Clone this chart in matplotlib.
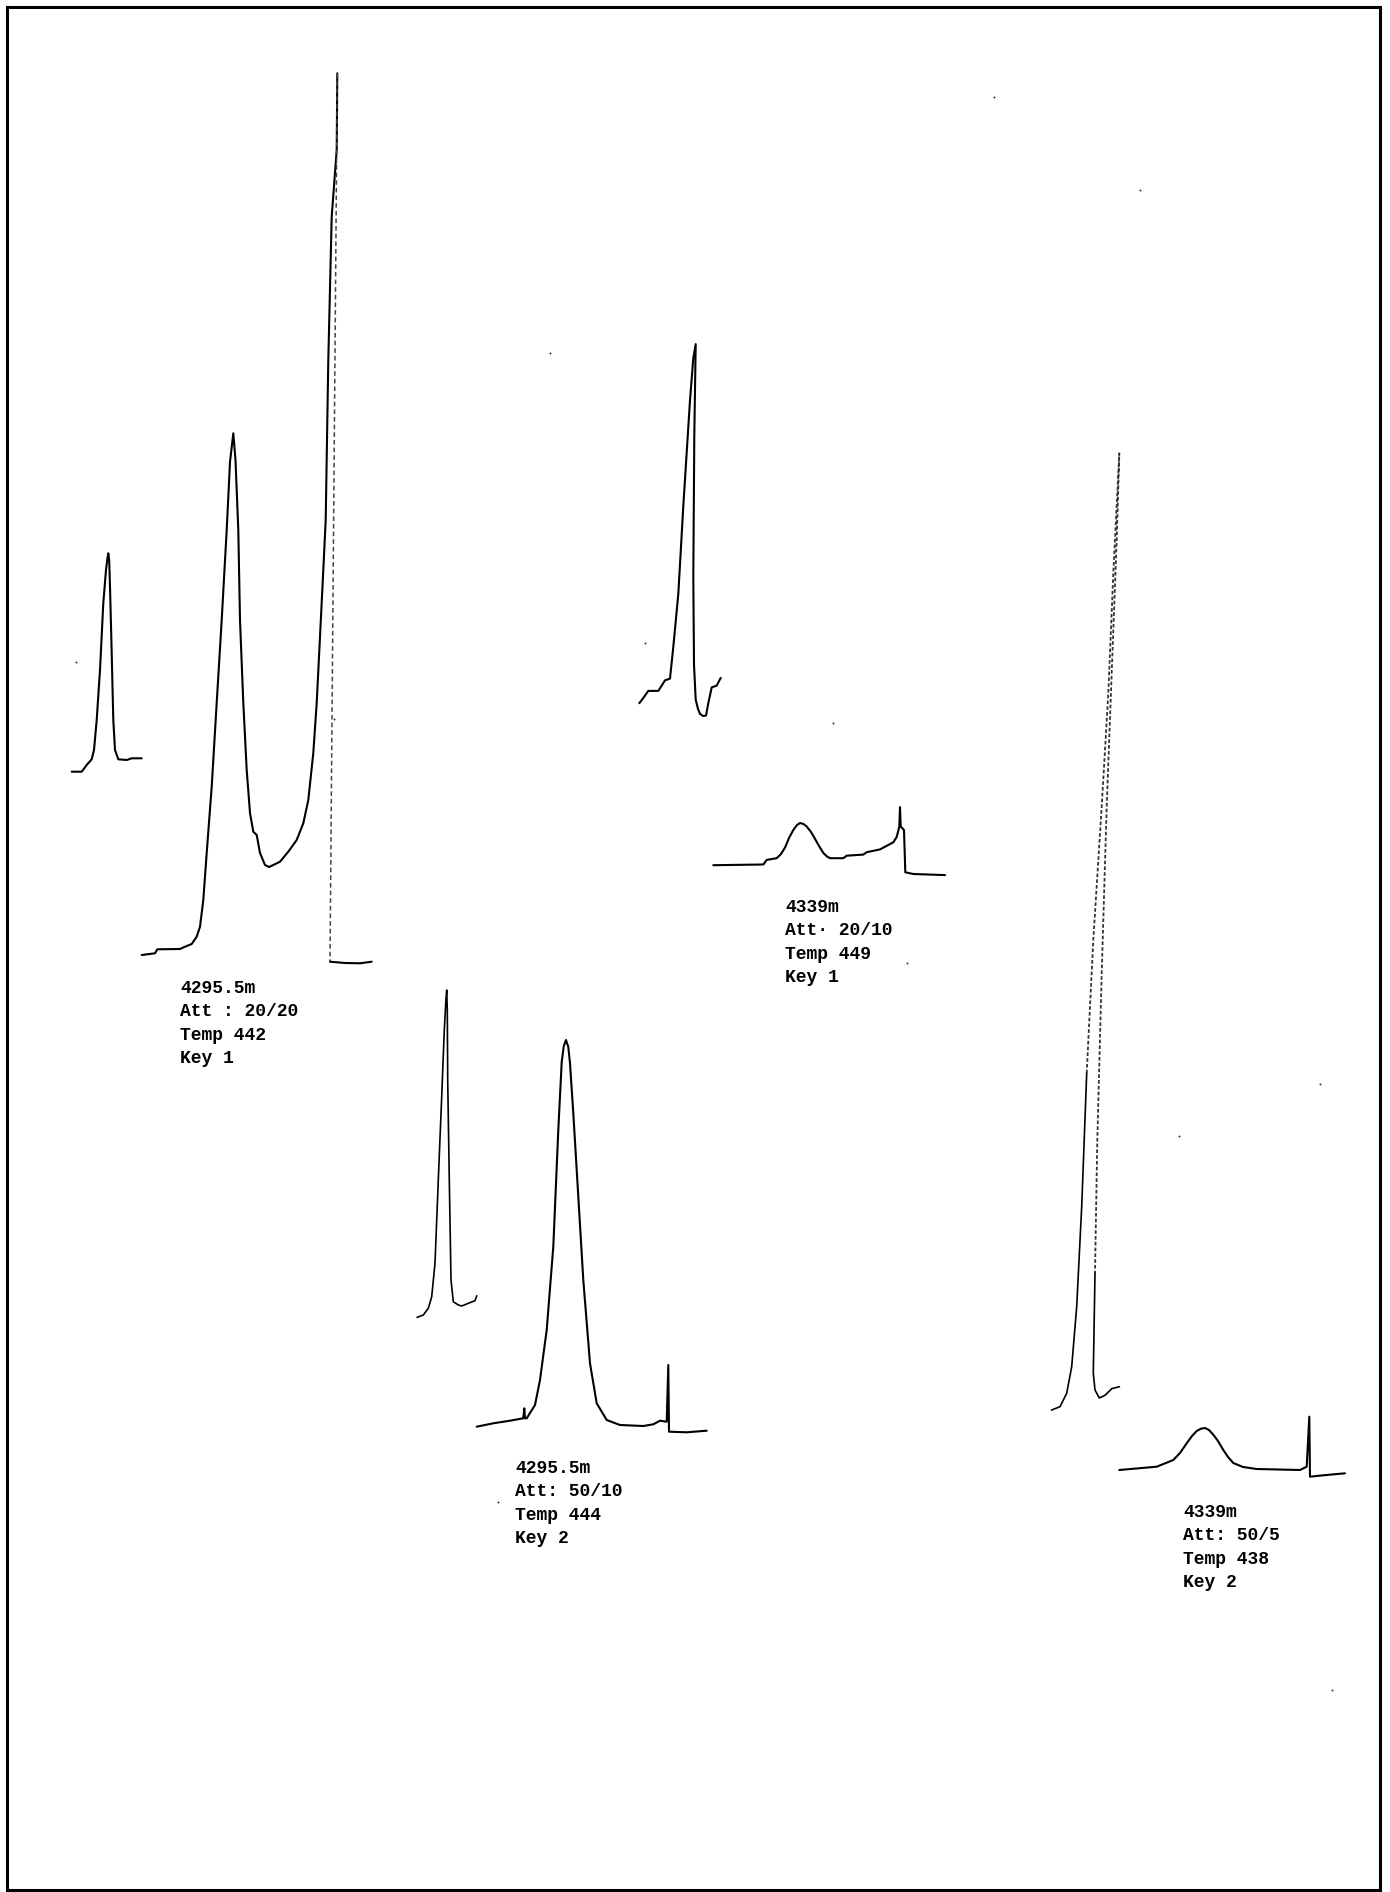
import matplotlib
matplotlib.use('Agg')
import matplotlib.pyplot as plt

# ==========================================
# DATA (page coordinates in pixels, y measured downwards)
# ==========================================
PAGE_W, PAGE_H = 1390, 1892

# 4295.5m, key 1 - small early peak
t1_x = [71.7, 81.7, 86.7, 91.7, 94, 96.7, 100, 103.3, 106, 107.5, 108.3, 109.2, 110, 111.7, 113.3, 115, 118.3, 126.7, 131.7, 141.7]
t1_y = [771.7, 771.7, 765, 759.3, 750, 720, 670, 603, 570, 558, 553.3, 560, 586.7, 653, 720, 750, 759.3, 760, 758.3, 758.3]

# 4295.5m, key 1 - main peak, trough and off-scale spike
t2_x = [141.7, 155, 157.3, 180, 185, 191.7, 196.7, 200, 203.3, 206.7, 211.7, 216.7, 221.7, 226.7, 230, 233.3, 235.5,
        238.3, 240, 243.3, 246.7, 250, 253.3, 256.7, 260, 265, 269, 273.3, 280, 288.3, 296.7, 303.3, 308.3,
        313.3, 316.7, 320, 323.3, 325.7, 328.3, 331.7, 336.7, 337.3,
        330, 330, 345, 360, 371.7]
t2_y = [955, 953.3, 949.3, 949, 946.7, 944, 936.7, 926.7, 900, 853, 786.7, 703, 620, 530, 462, 433.3, 460,
        530, 620, 703, 770, 813, 831.7, 835, 853, 865, 867, 865, 861.7, 851.7, 840, 823.3, 800,
        753, 703, 636.7, 570, 520, 360, 216.7, 150, 73.3,
        961.7, 961.7, 963, 963.3, 961.7]
t2_drop = (41, 43)   # index range of the faint pen-return line

# 4339m, key 1 - sharp peak
t3_x = [639.3, 643.3, 648.3, 658.3, 665, 670, 673.3, 678.3, 683.3, 690, 693.3, 695.7, 694.3, 693.3, 694,
        695.7, 698, 700, 703, 706, 708.3, 711.7, 716.7, 720.7]
t3_y = [703.2, 698, 690.9, 690.9, 680.4, 678.6, 646.9, 594.1, 506.1, 400.4, 358.2, 344.1, 435.6, 576.5, 664.5,
        699.7, 709, 713.8, 716, 715.6, 703.2, 687.4, 685.6, 677.9]

# 4339m, key 1 - small broad peak
t4_x = [713.3, 763.3, 766.7, 776.7, 781, 785, 789, 793.3, 797, 800, 803.5, 806.7, 811, 815, 819, 823.3, 827, 830,
        843.3, 846.7, 863.3, 866.7, 880, 893.3, 896.7, 899.3, 900, 900.7, 904, 905.3, 913.3, 945]
t4_y = [865.2, 864.5, 859.9, 858.2, 854, 847.6, 838, 830, 825, 823, 824, 826.5, 832, 838.8, 846, 852.9, 856.5, 858.2,
        858.2, 855.7, 854.6, 852.2, 849.4, 842.3, 837, 826.5, 807.1, 826.5, 830, 872.3, 874, 875.1]

# 4295.5m, key 2 - sharp peak
t5_x = [417.3, 423.3, 428.3, 431.7, 435, 438.3, 441.7, 444.3, 445.8, 446.7, 447.3, 447.7, 449.3, 451, 453.3, 458.3,
        461.7, 468.3, 475, 476.7]
t5_y = [1317.3, 1315, 1308.3, 1296.7, 1263.3, 1180, 1096.7, 1030, 1002, 990, 1010, 1080, 1180, 1280, 1301.7, 1305,
        1306, 1303.3, 1300.7, 1296]

# 4295.5m, key 2 - broad peak
t6_x = [476.7, 493.3, 510, 523.3, 524.3, 525, 526.7, 535, 540, 546.7, 553.3, 558.3, 561.7, 563.8, 566, 568.3, 570,
        573.3, 578.3, 583.3, 590, 596.7, 606.7, 620, 643.3, 653.3, 660, 666.7, 668.3, 669, 686.7, 706.7]
t6_y = [1426.7, 1423.3, 1420.7, 1418.3, 1408.3, 1418.3, 1418.3, 1405, 1380, 1330, 1246.7, 1130, 1062, 1046, 1040, 1047, 1063.3,
        1113.3, 1196.7, 1280, 1363.3, 1403.3, 1420, 1425, 1426, 1424.3, 1420.7, 1421.7, 1365, 1431.7, 1432.3, 1430.7]

# 4339m, key 2 - tall sharp peak
t7_x = [1051.7, 1060, 1066.7, 1071.7, 1076.7, 1081.7, 1086.7, 1093.3, 1101.7, 1108.3, 1113.3, 1117.3, 1119.3,
        1116.7, 1111.7, 1106.7, 1101.7, 1097.3, 1095, 1093.3, 1095, 1099.3, 1105, 1111.7, 1119.3]
t7_y = [1410, 1406.7, 1393.3, 1366.7, 1306.7, 1206.7, 1073.3, 940, 806.7, 693.3, 573.3, 493.3, 453.3,
        540, 673.3, 806.7, 973.3, 1140, 1273.3, 1373.3, 1390, 1398, 1395.3, 1388.7, 1386.7]
t7_faint = (6, 18)

# 4339m, key 2 - small broad peak
t8_x = [1119.3, 1156.7, 1173.3, 1180, 1186.7, 1192, 1196.7, 1201, 1205, 1209, 1213.3, 1218, 1223.3, 1228, 1233.3,
        1243, 1256.7, 1300, 1306.7, 1309.3, 1310, 1323.3, 1345]
t8_y = [1470, 1466.7, 1460, 1453, 1443.3, 1436, 1431, 1428.7, 1428, 1430, 1434.7, 1441, 1450, 1457, 1463,
        1467, 1469, 1470, 1466.7, 1416.7, 1476.7, 1475.3, 1473.3]

# annotation blocks
label1 = ['4295.5m', 'Att : 20/20', 'Temp 442', 'Key 1']
label2 = ['4339m', 'Att· 20/10', 'Temp 449', 'Key 1']
label3 = ['4295.5m', 'Att: 50/10', 'Temp 444', 'Key 2']
label4 = ['4339m', 'Att: 50/5', 'Temp 438', 'Key 2']
label_x = [180, 785, 515, 1183]
label_y = [988, 907, 1468, 1512]

# stray specks on the scanned page
speck_x = [993.5, 1139.8, 1319.9, 1178.5, 1332, 550, 832.8, 645.4, 498, 333.6, 76, 906.5]
speck_y = [96.7, 189.8, 1084.2, 1136.2, 1689.8, 353, 722.8, 643, 1502.4, 719.2, 662.4, 963]

# page frame
frame_x = [7, 1380, 1380, 7, 7]
frame_y = [7, 7, 1890, 1890, 7]


def plot_page():
    fig = plt.figure(figsize=(PAGE_W / 100, PAGE_H / 100), dpi=100)
    ax = fig.add_axes([0, 0, 1, 1])
    ax.set_xlim(0, PAGE_W)
    ax.set_ylim(PAGE_H, 0)
    ax.axis('off')

    ax.plot(frame_x, frame_y, color='black', lw=2.2, solid_joinstyle='miter')

    pen = dict(color='black', lw=1.5, solid_capstyle='round', solid_joinstyle='round')
    faint = dict(color='#444444', lw=1.1, linestyle=(0, (3, 2)))

    # key 1, 4295.5m
    ax.plot(t1_x, t1_y, **pen)
    a, b = t2_drop
    ax.plot(t2_x[:a + 1], t2_y[:a + 1], **pen)
    ax.plot(t2_x[a:b + 1], t2_y[a:b + 1], **faint)
    ax.plot(t2_x[b:], t2_y[b:], **pen)

    # key 1, 4339m
    ax.plot(t3_x, t3_y, **pen)
    ax.plot(t4_x, t4_y, **pen)

    # key 2, 4295.5m
    ax.plot(t5_x, t5_y, color='black', lw=1.2, solid_joinstyle='round')
    ax.plot(t6_x, t6_y, **pen)

    # key 2, 4339m
    a, b = t7_faint
    ax.plot(t7_x[:a + 1], t7_y[:a + 1], color='black', lw=1.2, solid_joinstyle='round')
    ax.plot(t7_x[a:b + 1], t7_y[a:b + 1], color='#333333', lw=1.3, linestyle=(0, (2, 1.2)))
    ax.plot(t7_x[b:], t7_y[b:], color='black', lw=1.2, solid_joinstyle='round')
    ax.plot(t8_x, t8_y, **pen)

    ax.scatter(speck_x, speck_y, s=2, color='#333333', linewidths=0)

    for lines, x0, y0 in zip([label1, label2, label3, label4], label_x, label_y):
        for i, line in enumerate(lines):
            ax.text(x0, y0 + i * 23.5, line, fontsize=13, family='Liberation Mono',
                    fontweight='bold', ha='left', va='center', color='black')

    fig.savefig('out.png', dpi=100, facecolor='white')


if __name__ == '__main__':
    plot_page()
